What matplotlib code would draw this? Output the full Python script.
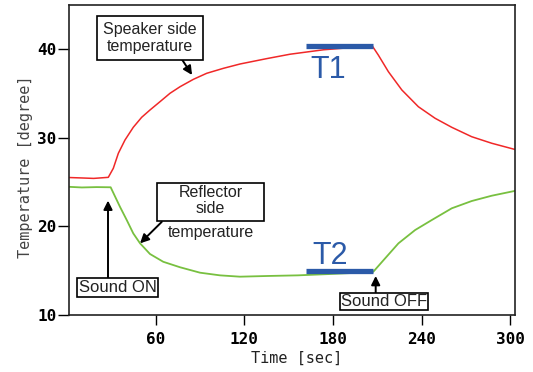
import matplotlib
matplotlib.use("Agg")
import matplotlib.pyplot as plt
from matplotlib.patches import Rectangle

# ---- data ----
red_t = [1.3, 10, 18, 27.9, 31.3, 34.7, 39.2, 44.8, 50.5, 56.1, 62.9, 69.7, 76.5, 85.5, 94.5,
         105.8, 117.1, 135, 150.9, 173.5, 196, 206.6, 210.7, 217.5, 226.6, 237.8, 249.1,
         260.4, 273.9, 287.5, 302.8]
red_T = [25.5, 25.45, 25.4, 25.52, 26.54, 28.23, 29.73, 31.16, 32.29, 33.11, 34.05, 35.0, 35.74,
         36.57, 37.25, 37.81, 38.3, 38.9, 39.4, 39.9, 40.2, 40.33, 39.3, 37.43, 35.37, 33.48,
         32.18, 31.16, 30.1, 29.36, 28.68]

green_t = [1.3, 10, 20, 29.5, 35.8, 40.4, 44.8, 49.4, 56.1, 65.1, 76.5, 90, 103.5, 117, 136,
           156.3, 178, 195, 207.3, 215.3, 224.3, 235.6, 246.9, 260.4, 273.9, 287.5, 302.8]
green_T = [24.45, 24.38, 24.42, 24.4, 22.2, 20.7, 19.2, 18.08, 16.88, 16.0, 15.38, 14.77, 14.47,
           14.32, 14.4, 14.47, 14.62, 14.75, 14.88, 16.39, 18.08, 19.58, 20.71, 22.03, 22.85,
           23.45, 23.98]

bar_t = [161.8, 206.9]
T1_level = 40.3
T2_level = 15.0

x_ticks = [60, 120, 180, 240, 300]
y_ticks = [10, 20, 30, 40]

mono = ['DejaVu Sans Mono']
sans = ['Liberation Sans', 'DejaVu Sans']

fig = plt.figure(figsize=(5.33, 3.72), dpi=100)
ax = fig.add_axes([69/533, 1-315/372, (515-69)/533, (315-5)/372])

ax.plot(red_t, red_T, color='#f02828', lw=1.1)
ax.plot(green_t, green_T, color='#78c040', lw=1.3)

blue = '#2b5aa8'
ax.plot(bar_t, [T1_level, T1_level], color=blue, lw=3.8, solid_capstyle='butt')
ax.plot(bar_t, [T2_level, T2_level], color=blue, lw=3.8, solid_capstyle='butt')
ax.text(176.7, 37.6, 'T1', color=blue, fontsize=22, family=sans, ha='center', va='center')
ax.text(178, 16.65, 'T2', color=blue, fontsize=22, family=sans, ha='center', va='center')

ax.set_xlim(1.3, 303.2)
ax.set_ylim(10, 44.95)
ax.set_xticks(x_ticks)
ax.set_yticks(y_ticks)
ax.tick_params(axis='x', direction='out', length=7, width=1, pad=5.5, labelsize=11.5)
ax.tick_params(axis='y', direction='out', length=8, width=1, pad=1, labelsize=11.5)
for lab in ax.get_xticklabels() + ax.get_yticklabels():
    lab.set_family(mono)
    lab.set_fontweight('bold')
for s in ax.spines.values():
    s.set_linewidth(1.2)
    s.set_color('#222222')

ax.set_xlabel('Time [sec]', family=mono, fontsize=11, color='#222222')
ax.set_ylabel('Temperature [degree]', family=mono, fontsize=11, color='#444444')
ax.xaxis.set_label_coords((296.7-69)/446, -(351-315)/310)
ax.yaxis.set_label_coords((33-69)/446, (315-166.5)/310)

arrow = dict(arrowstyle='-|>', color='black', lw=1.4, mutation_scale=13, shrinkA=0, shrinkB=0)
tc = '#222222'

# Speaker side
ax.annotate('', xy=(84.6, 37.06), xytext=(75.1, 39.5), arrowprops=arrow)
ax.text(56.1, 41.26, 'Speaker side\ntemperature', fontsize=11.5, family=sans, color=tc,
        ha='center', va='center', linespacing=1.15,
        bbox=dict(boxstyle='square,pad=0.38', fc='white', ec='black', lw=1.2))

# Reflector side
ax.add_patch(Rectangle((60.7, 20.6), 133.3-60.7, 24.85-20.6, fc='white', ec='black', lw=1.2, zorder=3))
ax.text(97, 22.9, 'Reflector\nside', fontsize=11.5, family=sans, color=tc,
        ha='center', va='center', linespacing=1.15, zorder=4)
ax.text(97, 19.3, 'temperature', fontsize=11.5, family=sans, color=tc,
        ha='center', va='center', zorder=4)
ax.annotate('', xy=(49.4, 18.08), xytext=(64.1, 20.5), arrowprops=arrow)

# Sound ON
ax.annotate('', xy=(27.7, 22.9), xytext=(27.7, 14.25), arrowprops=arrow)
ax.text(34.1, 13.1, 'Sound ON', fontsize=12, family=sans, color=tc, ha='center', va='center',
        bbox=dict(boxstyle='square,pad=0.1', fc='white', ec='black', lw=1.2))

# Sound OFF
ax.annotate('', xy=(208.9, 14.4), xytext=(208.9, 12.5), arrowprops=arrow)
ax.text(214.7, 11.55, 'Sound OFF', fontsize=12, family=sans, color=tc, ha='center', va='center',
        bbox=dict(boxstyle='square,pad=0.05', fc='white', ec='black', lw=1.2))

fig.savefig('out.png', dpi=100)
